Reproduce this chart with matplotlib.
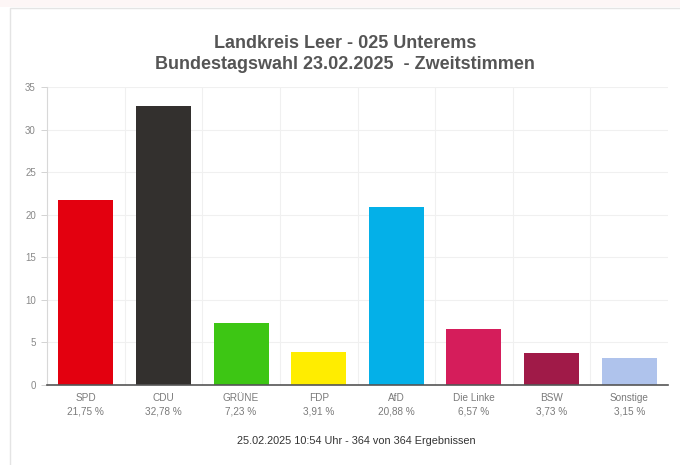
import matplotlib.pyplot as plt
from matplotlib.patches import Rectangle

parties = ["SPD", "CDU", "GRÜNE", "FDP", "AfD", "Die Linke", "BSW", "Sonstige"]
values = [21.75, 32.78, 7.23, 3.91, 20.88, 6.57, 3.73, 3.15]
colors = ["#E3000F", "#33302E", "#3DC614", "#FFED00", "#04B0E8", "#D51D5B", "#A01A48", "#AFC3EC"]
yticks = [0, 5, 10, 15, 20, 25, 30, 35]

plt.rcParams['font.family'] = ['Liberation Sans', 'DejaVu Sans']

fig = plt.figure(figsize=(6.8, 4.65), dpi=100)
fig.patch.set_facecolor("white")

# panel frame like the screenshot
fig.patches.append(Rectangle((10/680, -0.1), 1.2, (465 - 8)/465 + 0.1, transform=fig.transFigure,
                             fill=False, edgecolor="#e4e4e4", linewidth=1.0))
fig.patches.append(Rectangle((0, (465 - 7)/465), 1, 7/465, transform=fig.transFigure,
                             facecolor="#fdf6f6", edgecolor="none"))

ax = fig.add_axes([47/680, 1 - 385/465, (668 - 47)/680, (385 - 87)/465])

x = list(range(len(parties)))
ax.bar(x, values, width=0.71, color=colors, zorder=3)

ax.set_xlim(-0.5, len(parties) - 0.5)
ax.set_ylim(0, 35)
ax.set_yticks(yticks)
ax.set_yticklabels([str(t) for t in yticks], fontsize=7, color="#888888")

labels = [f"{p}\n{str(v).replace('.', ',')} %" for p, v in zip(parties, values)]
ax.set_xticks(x)
ax.set_xticklabels(labels, fontsize=7.2, color="#7a7a7a", linespacing=1.45)
ax.tick_params(axis="x", length=0, pad=6)
ax.tick_params(axis="y", length=4, width=0.6, color="#cccccc", pad=4)

# light grid
ax.yaxis.grid(True, color="#f0f0f0", linewidth=0.8, zorder=0)
for xb in [i + 0.5 for i in x[:-1]]:
    ax.axvline(xb, color="#f0f0f0", linewidth=0.8, zorder=0)

for s in ["top", "right"]:
    ax.spines[s].set_visible(False)
ax.spines["left"].set_color("#d8d8d8")
ax.spines["left"].set_linewidth(0.8)
ax.spines["bottom"].set_color("#555555")
ax.spines["bottom"].set_linewidth(1.2)
ax.spines["bottom"].set_zorder(4)

fig.text(345/680, 1 - 43/465, "Landkreis Leer - 025 Unterems", ha="center", va="center",
         fontsize=13, fontweight="bold", color="#555555")
fig.text(345/680, 1 - 64/465, "Bundestagswahl 23.02.2025  - Zweitstimmen", ha="center", va="center",
         fontsize=13, fontweight="bold", color="#555555")
fig.text(356/680, 1 - 441/465, "25.02.2025 10:54 Uhr - 364 von 364 Ergebnissen", ha="center", va="center",
         fontsize=7.8, color="#333333")

fig.savefig("out.png", dpi=100)
